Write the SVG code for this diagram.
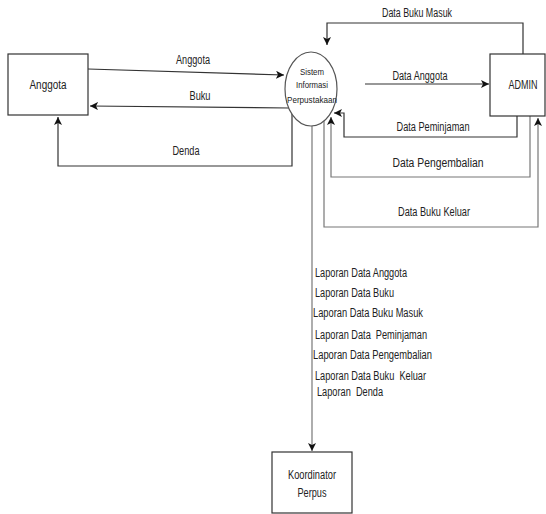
<svg xmlns="http://www.w3.org/2000/svg" width="546" height="514" viewBox="0 0 546 514">
<style>
text{font-family:"Liberation Sans",Arial,sans-serif;font-size:12px;fill:#222;white-space:pre;}
.sm{font-size:9.5px;}
.box{fill:#fff;stroke:#333;stroke-width:1.2;}
.ln{fill:none;stroke:#333;stroke-width:1.2;}
.lg{fill:none;stroke:#777;stroke-width:1.2;}
</style>
<defs>
<marker id="ah" markerUnits="userSpaceOnUse" markerWidth="9" markerHeight="8" refX="8" refY="4" orient="auto">
<path d="M0,0 L8,4 L0,8 L2,4 Z" fill="#111"/>
</marker>
</defs>
<rect width="546" height="514" fill="#fff"/>
<g id="connectors">
<path class="ln" d="M88,69 L284,75" marker-end="url(#ah)"/>
<path class="ln" d="M289,108 L90,106" marker-end="url(#ah)"/>
<path class="ln" d="M292,108 L292,166 L58,166 L58,117" marker-end="url(#ah)"/>
<path class="ln" d="M523,54 L523,23 L327,23 L327,45" marker-end="url(#ah)"/>
<path class="ln" d="M365,84 L489,84" marker-end="url(#ah)"/>
<path class="ln" d="M517,116 L517,137 L344,137 L344,113 L334,113" marker-end="url(#ah)"/>
<path class="lg" d="M530,116 L530,177 L331,177 L331,117" marker-end="url(#ah)"/>
<path class="lg" d="M324,121 L324,227 L538,227 L538,118" marker-end="url(#ah)"/>
<path class="lg" d="M312,126 L312,451" marker-end="url(#ah)"/>
<text x="193" y="64" text-anchor="middle" textLength="34" lengthAdjust="spacingAndGlyphs">Anggota</text>
<text x="200" y="100" text-anchor="middle" textLength="21" lengthAdjust="spacingAndGlyphs">Buku</text>
<text x="186" y="155" text-anchor="middle" textLength="27" lengthAdjust="spacingAndGlyphs">Denda</text>
<text x="417" y="17" text-anchor="middle" textLength="70" lengthAdjust="spacingAndGlyphs">Data Buku Masuk</text>
<text x="420" y="80" text-anchor="middle" textLength="55" lengthAdjust="spacingAndGlyphs">Data Anggota</text>
<text x="433" y="131" text-anchor="middle" textLength="73" lengthAdjust="spacingAndGlyphs">Data Peminjaman</text>
<text x="438" y="167" text-anchor="middle" textLength="91" lengthAdjust="spacingAndGlyphs">Data Pengembalian</text>
<text x="434" y="216" text-anchor="middle" textLength="72" lengthAdjust="spacingAndGlyphs">Data Buku Keluar</text>
<text x="315" y="277" textLength="92" lengthAdjust="spacingAndGlyphs">Laporan Data Anggota</text>
<text x="315" y="297" textLength="79" lengthAdjust="spacingAndGlyphs">Laporan Data Buku</text>
<text x="313" y="317" textLength="110" lengthAdjust="spacingAndGlyphs">Laporan Data Buku Masuk</text>
<text x="315" y="339" textLength="112" lengthAdjust="spacingAndGlyphs">Laporan Data  Peminjaman</text>
<text x="313" y="359" textLength="119" lengthAdjust="spacingAndGlyphs">Laporan Data Pengembalian</text>
<text x="315" y="380" textLength="111" lengthAdjust="spacingAndGlyphs">Laporan Data Buku  Keluar</text>
<text x="317" y="396" textLength="66" lengthAdjust="spacingAndGlyphs">Laporan  Denda</text>
</g>
<g id="anggota">
<rect class="box" x="8" y="54" width="80" height="61"/>
<text x="48" y="89" text-anchor="middle" textLength="37" lengthAdjust="spacingAndGlyphs">Anggota</text>
</g>
<g id="sistem">
<ellipse cx="311" cy="89" rx="26" ry="37" fill="#fff" stroke="#555" stroke-width="1.2"/>
<text class="sm" x="312" y="75" text-anchor="middle" textLength="24" lengthAdjust="spacingAndGlyphs">Sistem</text>
<text class="sm" x="312" y="88" text-anchor="middle" textLength="32" lengthAdjust="spacingAndGlyphs">Informasi</text>
<text class="sm" x="312" y="103" text-anchor="middle" textLength="50" lengthAdjust="spacingAndGlyphs">Perpustakaan</text>
</g>
<g id="admin">
<rect class="box" x="490" y="54" width="55" height="62"/>
<text x="523" y="89" text-anchor="middle" textLength="29" lengthAdjust="spacingAndGlyphs">ADMIN</text>
</g>
<g id="koordinator">
<rect class="box" x="272" y="452" width="80" height="61"/>
<text x="312" y="479" text-anchor="middle" textLength="48" lengthAdjust="spacingAndGlyphs">Koordinator</text>
<text x="312" y="497" text-anchor="middle" textLength="29" lengthAdjust="spacingAndGlyphs">Perpus</text>
</g>
</svg>
